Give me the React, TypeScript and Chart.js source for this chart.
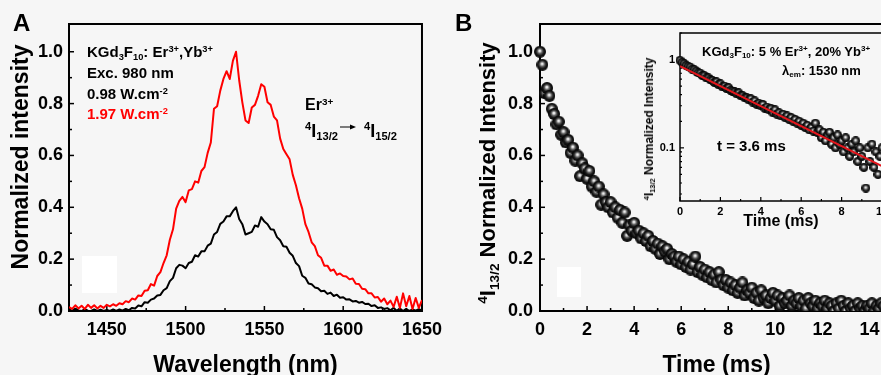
import React, { useEffect, useRef } from 'react';
import { Chart, registerables } from 'chart.js';

Chart.register(...registerables);

const FONT = "'Liberation Sans', Arial, Helvetica, sans-serif";
const BG = '#f6f6f6';

// ---------- Panel A : emission spectra ----------
const wavelengths = [
  1426, 1428, 1430, 1432, 1434, 1436, 1438, 1440, 1442, 1444,
  1446, 1448, 1450, 1452, 1454, 1456, 1458, 1460, 1462, 1464,
  1466, 1468, 1470, 1472, 1474, 1476, 1478, 1480, 1482, 1484,
  1486, 1488, 1490, 1492, 1494, 1496, 1498, 1500, 1502, 1504,
  1506, 1508, 1510, 1512, 1514, 1516, 1518, 1520, 1522, 1524,
  1526, 1528, 1530, 1532, 1534, 1536, 1538, 1540, 1542, 1544,
  1546, 1548, 1550, 1552, 1554, 1556, 1558, 1560, 1562, 1564,
  1566, 1568, 1570, 1572, 1574, 1576, 1578, 1580, 1582, 1584,
  1586, 1588, 1590, 1592, 1594, 1596, 1598, 1600, 1602, 1604,
  1606, 1608, 1610, 1612, 1614, 1616, 1618, 1620, 1622, 1624,
  1626, 1628, 1630, 1632, 1634, 1636, 1638, 1640, 1642, 1644,
  1646, 1648, 1650,
];
// 1.97 W.cm-2 (red)
const intensityHigh = [
  0.015, 0.008, 0.022, 0.010, 0.020, 0.008, 0.024, 0.012, 0.022, 0.010,
  0.020, 0.012, 0.024, 0.018, 0.026, 0.020, 0.030, 0.026, 0.038, 0.034,
  0.048, 0.044, 0.060, 0.058, 0.078, 0.080, 0.104, 0.098, 0.135, 0.150,
  0.185, 0.215, 0.275, 0.315, 0.395, 0.425, 0.440, 0.420, 0.465, 0.470,
  0.500, 0.495, 0.540, 0.555, 0.610, 0.650, 0.780, 0.790, 0.850, 0.895,
  0.925, 0.895, 0.965, 1.000, 0.890, 0.805, 0.735, 0.725, 0.785, 0.795,
  0.830, 0.875, 0.865, 0.805, 0.795, 0.750, 0.735, 0.665, 0.625, 0.605,
  0.585, 0.525, 0.485, 0.435, 0.395, 0.335, 0.305, 0.265, 0.250, 0.215,
  0.205, 0.175, 0.175, 0.155, 0.160, 0.140, 0.145, 0.135, 0.133, 0.122,
  0.125, 0.105, 0.104, 0.086, 0.084, 0.068, 0.068, 0.052, 0.054, 0.036,
  0.048, 0.026, 0.040, 0.016, 0.055, 0.012, 0.068, 0.018, 0.058, 0.008,
  0.050, 0.012, 0.042,
];
// 0.98 W.cm-2 (black)
const intensityLow = [
  0.006, 0.000, 0.009, 0.002, 0.000, 0.007, 0.001, 0.000, 0.006, 0.000,
  0.005, 0.000, 0.004, 0.000, 0.006, 0.000, 0.006, 0.001, 0.008, 0.003,
  0.012, 0.010, 0.021, 0.018, 0.034, 0.032, 0.044, 0.048, 0.060, 0.062,
  0.080, 0.088, 0.115, 0.128, 0.165, 0.178, 0.175, 0.165, 0.185, 0.190,
  0.215, 0.210, 0.230, 0.230, 0.252, 0.260, 0.295, 0.305, 0.336, 0.345,
  0.365, 0.365, 0.385, 0.400, 0.355, 0.335, 0.295, 0.300, 0.305, 0.330,
  0.325, 0.362, 0.345, 0.335, 0.315, 0.313, 0.285, 0.273, 0.250, 0.248,
  0.225, 0.213, 0.185, 0.173, 0.136, 0.128, 0.106, 0.103, 0.091, 0.088,
  0.076, 0.078, 0.066, 0.071, 0.058, 0.063, 0.051, 0.053, 0.044, 0.045,
  0.037, 0.039, 0.032, 0.035, 0.027, 0.028, 0.019, 0.022, 0.012, 0.014,
  0.008, 0.011, 0.003, 0.012, 0.001, 0.010, 0.000, 0.008, 0.000, 0.006,
  0.001, 0.007, 0.002,
];
const aXTicks = [1450, 1500, 1550, 1600, 1650];
const aXMinor = [1475, 1525, 1575, 1625];
const aYTicks = [0, 0.2, 0.4, 0.6, 0.8, 1.0];
const aYMinor = [0.1, 0.3, 0.5, 0.7, 0.9];

// ---------- Panel B : decay ----------
const decayTimes = [
  0, 0.1, 0.2, 0.3, 0.4, 0.5, 0.6, 0.7, 0.8, 0.9,
  1.0, 1.1, 1.2, 1.3, 1.4, 1.5, 1.6, 1.7, 1.8, 1.9,
  2.0, 2.1, 2.2, 2.3, 2.4, 2.5, 2.6, 2.7, 2.8, 2.9,
  3.0, 3.1, 3.2, 3.3, 3.4, 3.5, 3.6, 3.7, 3.8, 3.9,
  4.0, 4.1, 4.2, 4.3, 4.4, 4.5, 4.6, 4.7, 4.8, 4.9,
  5.0, 5.1, 5.2, 5.3, 5.4, 5.5, 5.6, 5.7, 5.8, 5.9,
  6.0, 6.1, 6.2, 6.3, 6.4, 6.5, 6.6, 6.7, 6.8, 6.9,
  7.0, 7.1, 7.2, 7.3, 7.4, 7.5, 7.6, 7.7, 7.8, 7.9,
  8.0, 8.1, 8.2, 8.3, 8.4, 8.5, 8.6, 8.7, 8.8, 8.9,
  9.0, 9.1, 9.2, 9.3, 9.4, 9.5, 9.6, 9.7, 9.8, 9.9,
  10.0, 10.1, 10.2, 10.3, 10.4, 10.5, 10.6, 10.7, 10.8, 10.9,
  11.0, 11.1, 11.2, 11.3, 11.4, 11.5, 11.6, 11.7, 11.8, 11.9,
  12.0, 12.1, 12.2, 12.3, 12.4, 12.5, 12.6, 12.7, 12.8, 12.9,
  13.0, 13.1, 13.2, 13.3, 13.4, 13.5, 13.6, 13.7, 13.8, 13.9,
  14.0, 14.1, 14.2, 14.3, 14.4, 14.5, 14.6,
];
const decayValues = [
  1.00, 0.95, 0.84, 0.86, 0.83, 0.78, 0.76, 0.72, 0.73, 0.68,
  0.69, 0.65, 0.66, 0.61, 0.63, 0.58, 0.60, 0.52, 0.57, 0.55,
  0.51, 0.54, 0.48, 0.50, 0.46, 0.48, 0.41, 0.45, 0.42, 0.40,
  0.42, 0.38, 0.40, 0.36, 0.39, 0.34, 0.38, 0.29, 0.33, 0.31,
  0.34, 0.30, 0.31, 0.28, 0.30, 0.27, 0.29, 0.25, 0.27, 0.24,
  0.26, 0.22, 0.25, 0.23, 0.24, 0.20, 0.22, 0.21, 0.19, 0.21,
  0.18, 0.20, 0.17, 0.19, 0.16, 0.18, 0.21, 0.15, 0.17, 0.14,
  0.16, 0.13, 0.15, 0.12, 0.14, 0.11, 0.15, 0.12, 0.10, 0.12,
  0.09, 0.11, 0.08, 0.10, 0.07, 0.09, 0.11, 0.06, 0.08, 0.07,
  0.09, 0.05, 0.07, 0.04, 0.08, 0.05, 0.06, 0.03, 0.05, 0.07,
  0.04, 0.06, 0.02, 0.05, 0.03, 0.04, 0.06, 0.02, 0.04, 0.03,
  0.05, 0.02, 0.04, 0.01, 0.05, 0.03, 0.02, 0.04, 0.01, 0.03,
  0.02, 0.04, 0.01, 0.03, 0.02, 0.00, 0.03, 0.01, 0.04, 0.02,
  0.00, 0.03, 0.01, 0.02, 0.00, 0.03, 0.01, 0.02, 0.00, 0.02,
  0.01, 0.03, 0.00, 0.02, 0.01, 0.03, 0.02,
];
const bXTicks = [0, 2, 4, 6, 8, 10, 12, 14];
const bXMinor = [1, 3, 5, 7, 9, 11, 13];
const bYTicks = [0, 0.2, 0.4, 0.6, 0.8, 1.0];
const bYMinor = [0.1, 0.3, 0.5, 0.7, 0.9];

// ---------- Inset : log decay ----------
const insetTimes = [
  0, 0.1, 0.2, 0.3, 0.4, 0.5, 0.6, 0.7, 0.8, 0.9,
  1.0, 1.1, 1.2, 1.3, 1.4, 1.5, 1.6, 1.7, 1.8, 1.9,
  2.0, 2.1, 2.2, 2.3, 2.4, 2.5, 2.6, 2.7, 2.8, 2.9,
  3.0, 3.1, 3.2, 3.3, 3.4, 3.5, 3.6, 3.7, 3.8, 3.9,
  4.0, 4.1, 4.2, 4.3, 4.4, 4.5, 4.6, 4.7, 4.8, 4.9,
  5.0, 5.1, 5.2, 5.3, 5.4, 5.5, 5.6, 5.7, 5.8, 5.9,
  6.0, 6.1, 6.2, 6.3, 6.4, 6.5, 6.6, 6.7, 6.8, 6.9,
  7.0, 7.1, 7.2, 7.3, 7.4, 7.5, 7.6, 7.7, 7.8, 7.9,
  8.0, 8.1, 8.2, 8.3, 8.4, 8.5, 8.6, 8.7, 8.8, 8.9,
  9.0, 9.1, 9.2, 9.3, 9.4, 9.5, 9.6, 9.7, 9.8, 9.9,
  10.0, 10.1, 10.2, 10.3,
];
const insetValues = [
  0.98, 0.93, 0.90, 0.86, 0.84, 0.82, 0.78, 0.77, 0.74, 0.71,
  0.70, 0.66, 0.66, 0.62, 0.62, 0.59, 0.58, 0.55, 0.56, 0.52,
  0.53, 0.49, 0.50, 0.47, 0.48, 0.45, 0.44, 0.43, 0.41, 0.42,
  0.39, 0.39, 0.37, 0.37, 0.35, 0.36, 0.33, 0.34, 0.31, 0.32,
  0.30, 0.31, 0.28, 0.29, 0.27, 0.28, 0.25, 0.27, 0.24, 0.25,
  0.23, 0.24, 0.22, 0.23, 0.21, 0.22, 0.20, 0.21, 0.19, 0.20,
  0.18, 0.19, 0.17, 0.18, 0.16, 0.17, 0.155, 0.19, 0.15, 0.16,
  0.13, 0.15, 0.12, 0.14, 0.15, 0.11, 0.13, 0.10, 0.14, 0.11,
  0.12, 0.09, 0.13, 0.10, 0.08, 0.11, 0.09, 0.12, 0.07, 0.10,
  0.08, 0.06, 0.035, 0.10, 0.07, 0.11, 0.06, 0.09, 0.05, 0.08,
  0.10, 0.06, 0.09, 0.05,
];
const fitTimes = [0, 10];
const fitValues = [0.84, 0.062];
const insetXTicks = [0, 2, 4, 6, 8, 10];
const insetXMinor = [1, 3, 5, 7, 9];
const insetYTicks = [0.1, 1];
const insetYLabels = ['0.1', '1'];
const insetYMinor = [0.03, 0.04, 0.05, 0.06, 0.07, 0.08, 0.09, 0.2, 0.3, 0.4, 0.5, 0.6, 0.7, 0.8, 0.9, 2];

// ---------- helpers ----------
function makeBall(d: number): HTMLCanvasElement {
  const c = document.createElement('canvas');
  c.width = d;
  c.height = d;
  const g = c.getContext('2d')!;
  const r = d / 2;
  const grad = g.createRadialGradient(r * 0.95, r * 0.82, 0, r, r, r);
  grad.addColorStop(0, '#ffffff');
  grad.addColorStop(0.16, '#e0e0e0');
  grad.addColorStop(0.38, '#6a6a6a');
  grad.addColorStop(0.65, '#1c1c1c');
  grad.addColorStop(1, '#000000');
  g.fillStyle = grad;
  g.beginPath();
  g.arc(r, r, r, 0, Math.PI * 2);
  g.fill();
  return c;
}

function makeFrame(cfg: any) {
  return {
    id: 'frame',
    beforeDraw(chart: any) {
      if (!cfg.fill) return;
      const { ctx, chartArea: a } = chart;
      ctx.save();
      ctx.fillStyle = cfg.fill;
      ctx.fillRect(a.left, a.top, a.right - a.left, a.bottom - a.top);
      ctx.restore();
    },
    beforeDatasetsDraw(chart: any) {
      const { ctx, chartArea: a, scales } = chart;
      const xs = scales.x;
      const ys = scales.y;
      ctx.save();
      ctx.strokeStyle = '#000';
      ctx.lineWidth = cfg.tickWidth;
      const vt = (v: number, len: number) => {
        const p = xs.getPixelForValue(v);
        ctx.beginPath();
        ctx.moveTo(p, a.bottom);
        ctx.lineTo(p, a.bottom - len);
        ctx.stroke();
      };
      const ht = (v: number, len: number) => {
        const p = ys.getPixelForValue(v);
        ctx.beginPath();
        ctx.moveTo(a.left, p);
        ctx.lineTo(a.left + len, p);
        ctx.stroke();
      };
      cfg.xMajor.forEach((v: number) => vt(v, cfg.majorLen));
      cfg.xMinor.forEach((v: number) => vt(v, cfg.minorLen));
      cfg.yMajor.forEach((v: number) => ht(v, cfg.majorLen));
      cfg.yMinor.forEach((v: number) => ht(v, cfg.minorLen));
      ctx.lineWidth = cfg.border;
      ctx.strokeRect(a.left, a.top, a.right - a.left, a.bottom - a.top);
      ctx.restore();
    },
  };
}

const tickFont = (size: number) => ({ family: FONT, size, weight: 'bold' as const });

function pairs(xs: number[], ys: number[]) {
  return xs.map((x, i) => ({ x, y: ys[i] }));
}

// ---------- text helpers ----------
const Sup = ({ children }: any) => (
  <span style={{ fontSize: '0.62em', position: 'relative', top: '-0.6em' }}>{children}</span>
);
const Sub = ({ children }: any) => (
  <span style={{ fontSize: '0.62em', position: 'relative', top: '0.3em' }}>{children}</span>
);
const T = ({ x, y, size, color = '#000', children }: any) => (
  <div
    style={{
      position: 'absolute',
      left: x,
      top: y - 0.8465 * size,
      fontSize: size,
      lineHeight: `${size}px`,
      whiteSpace: 'nowrap',
      color,
    }}
  >
    {children}
  </div>
);
const VT = ({ cx, cy, size, children }: any) => (
  <div
    style={{
      position: 'absolute',
      left: cx,
      top: cy,
      fontSize: size,
      lineHeight: `${size}px`,
      whiteSpace: 'nowrap',
      transform: 'translate(-50%, -50%) rotate(-90deg)',
    }}
  >
    {children}
  </div>
);
const Arrow = () => (
  <svg width={16} height={8} style={{ position: 'relative', top: -6, marginLeft: 2, marginRight: 8 }}>
    <line x1={0} y1={4} x2={11} y2={4} stroke="#000" strokeWidth={1} />
    <polygon points="10,1.5 16,4 10,6.5" fill="#000" />
  </svg>
);

export default function App() {
  const aRef = useRef<HTMLCanvasElement>(null);
  const bRef = useRef<HTMLCanvasElement>(null);
  const iRef = useRef<HTMLCanvasElement>(null);

  useEffect(() => {
    const ballBig = makeBall(12);
    const ballSmall = makeBall(9);

    const chartA = new Chart(aRef.current!, {
      type: 'line',
      data: {
        datasets: [
          {
            data: pairs(wavelengths, intensityHigh),
            borderColor: '#ff0000',
            borderWidth: 2,
            pointRadius: 0,
            borderJoinStyle: 'round',
          },
          {
            data: pairs(wavelengths, intensityLow),
            borderColor: '#000000',
            borderWidth: 2,
            pointRadius: 0,
            borderJoinStyle: 'round',
          },
        ],
      },
      options: {
        responsive: false,
        animation: false,
        layout: { padding: { left: 0, top: 24, right: 26, bottom: 0 } },
        plugins: { legend: { display: false }, tooltip: { enabled: false } },
        scales: {
          x: {
            type: 'linear',
            min: 1426,
            max: 1650,
            grid: { display: false, drawTicks: false },
            border: { display: false },
            afterBuildTicks: (s: any) => {
              s.ticks = aXTicks.map((v) => ({ value: v }));
            },
            afterFit: (s: any) => {
              s.height = 69;
            },
            ticks: {
              font: tickFont(18),
              color: '#000',
              padding: 8,
              autoSkip: false,
              maxRotation: 0,
              callback: (v: any) => String(v),
            },
            title: {
              display: true,
              text: 'Wavelength (nm)',
              font: tickFont(23),
              color: '#000',
              padding: { top: 0, bottom: 1 },
            },
          },
          y: {
            type: 'linear',
            min: 0,
            max: 1.107,
            grid: { display: false, drawTicks: false },
            border: { display: false },
            afterBuildTicks: (s: any) => {
              s.ticks = aYTicks.map((v) => ({ value: v }));
            },
            afterFit: (s: any) => {
              s.width = 69;
            },
            ticks: {
              font: tickFont(18),
              color: '#000',
              padding: 6,
              autoSkip: false,
              callback: (v: any) => Number(v).toFixed(1),
            },
          },
        },
      } as any,
      plugins: [
        makeFrame({
          border: 2,
          tickWidth: 1.5,
          majorLen: 5,
          minorLen: 3,
          xMajor: aXTicks,
          xMinor: aXMinor,
          yMajor: aYTicks,
          yMinor: aYMinor,
        }),
      ],
    });

    const chartB = new Chart(bRef.current!, {
      type: 'scatter',
      data: {
        datasets: [
          {
            data: pairs(decayTimes, decayValues),
            pointStyle: ballBig as any,
            pointRadius: 6,
            clip: { left: 8, top: 8, right: 8, bottom: 0 } as any,
          },
        ],
      },
      options: {
        responsive: false,
        animation: false,
        layout: { padding: { left: 0, top: 24, right: 5, bottom: 0 } },
        plugins: { legend: { display: false }, tooltip: { enabled: false } },
        scales: {
          x: {
            type: 'linear',
            min: 0,
            max: 15,
            grid: { display: false, drawTicks: false },
            border: { display: false },
            afterBuildTicks: (s: any) => {
              s.ticks = bXTicks.map((v) => ({ value: v }));
            },
            afterFit: (s: any) => {
              s.height = 69;
            },
            ticks: {
              font: tickFont(18),
              color: '#000',
              padding: 8,
              autoSkip: false,
              maxRotation: 0,
              callback: (v: any) => String(v),
            },
            title: {
              display: true,
              text: 'Time (ms)',
              font: tickFont(23),
              color: '#000',
              padding: { top: 0, bottom: 1 },
            },
          },
          y: {
            type: 'linear',
            min: 0,
            max: 1.107,
            grid: { display: false, drawTicks: false },
            border: { display: false },
            afterBuildTicks: (s: any) => {
              s.ticks = bYTicks.map((v) => ({ value: v }));
            },
            afterFit: (s: any) => {
              s.width = 100;
            },
            ticks: {
              font: tickFont(18),
              color: '#000',
              padding: 7,
              autoSkip: false,
              callback: (v: any) => Number(v).toFixed(1),
            },
          },
        },
      } as any,
      plugins: [
        makeFrame({
          border: 2,
          tickWidth: 1.5,
          majorLen: 5,
          minorLen: 3,
          xMajor: bXTicks,
          xMinor: bXMinor,
          yMajor: bYTicks,
          yMinor: bYMinor,
        }),
      ],
    });

    const chartI = new Chart(iRef.current!, {
      type: 'scatter',
      data: {
        datasets: [
          {
            data: pairs(fitTimes, fitValues),
            showLine: true,
            borderColor: '#e4161c',
            borderWidth: 2,
            pointRadius: 0,
          },
          {
            data: pairs(insetTimes, insetValues),
            pointStyle: ballSmall as any,
            pointRadius: 4.5,
            clip: { left: 5, top: 5, right: 0, bottom: 0 } as any,
          },
        ],
      },
      options: {
        responsive: false,
        animation: false,
        layout: { padding: { left: 0, top: 33, right: 28, bottom: 0 } },
        plugins: { legend: { display: false }, tooltip: { enabled: false } },
        scales: {
          x: {
            type: 'linear',
            min: 0,
            max: 10,
            grid: { display: false, drawTicks: false },
            border: { display: false },
            afterBuildTicks: (s: any) => {
              s.ticks = insetXTicks.map((v) => ({ value: v }));
            },
            afterFit: (s: any) => {
              s.height = 39;
            },
            ticks: {
              font: tickFont(11),
              color: '#000',
              padding: 4,
              autoSkip: false,
              maxRotation: 0,
              callback: (v: any) => String(v),
            },
            title: {
              display: true,
              text: 'Time (ms)',
              font: tickFont(16),
              color: '#000',
              padding: { top: 0, bottom: 9 },
            },
          },
          y: {
            type: 'logarithmic',
            min: 0.025,
            max: 2,
            grid: { display: false, drawTicks: false },
            border: { display: false },
            afterBuildTicks: (s: any) => {
              s.ticks = insetYTicks.map((v) => ({ value: v }));
            },
            afterFit: (s: any) => {
              s.width = 50;
            },
            ticks: {
              font: tickFont(11),
              color: '#000',
              padding: 5,
              autoSkip: false,
              callback: (_v: any, i: number) => insetYLabels[i],
            },
          },
        },
      } as any,
      plugins: [
        makeFrame({
          fill: BG,
          border: 1.5,
          tickWidth: 1.2,
          majorLen: 4,
          minorLen: 2,
          xMajor: insetXTicks,
          xMinor: insetXMinor,
          yMajor: insetYTicks,
          yMinor: insetYMinor,
        }),
      ],
    });

    return () => {
      chartA.destroy();
      chartB.destroy();
      chartI.destroy();
    };
  }, []);

  return (
    <div
      style={{
        position: 'fixed',
        left: 0,
        top: 0,
        width: 881,
        height: 375,
        overflow: 'hidden',
        background: BG,
        fontFamily: FONT,
        fontWeight: 'bold',
        color: '#000',
      }}
    >
      <canvas ref={aRef} width={450} height={380} style={{ position: 'absolute', left: 0, top: 0 }} />
      <canvas ref={bRef} width={460} height={380} style={{ position: 'absolute', left: 440, top: 0 }} />
      <canvas ref={iRef} width={280} height={240} style={{ position: 'absolute', left: 630, top: 0 }} />

      <div style={{ position: 'absolute', left: 82, top: 256, width: 35, height: 37, background: '#fff' }} />
      <div style={{ position: 'absolute', left: 557, top: 267, width: 24, height: 30, background: '#fff' }} />

      <T x={13} y={31.7} size={24}>A</T>
      <T x={455} y={31.7} size={24}>B</T>

      <VT cx={20} cy={157} size={23}>Normalized intensity</VT>
      <VT cx={489} cy={172.5} size={22}>
        <Sup>4</Sup>I<Sub>13/2</Sub> Normalized Intensity
      </VT>
      <VT cx={650} cy={128.5} size={12}>
        <Sup>4</Sup>I<Sub>13/2</Sub> Normalized Intensity
      </VT>

      <T x={87} y={57} size={15}>
        KGd<Sub>3</Sub>F<Sub>10</Sub>: Er<Sup>3+</Sup>,Yb<Sup>3+</Sup>
      </T>
      <T x={87} y={78} size={15}>Exc. 980 nm</T>
      <T x={87} y={99} size={15}>
        0.98 W.cm<Sup>-2</Sup>
      </T>
      <T x={87} y={119} size={15} color="#ff0000">
        1.97 W.cm<Sup>-2</Sup>
      </T>

      <T x={305} y={111} size={16}>
        Er<Sup>3+</Sup>
      </T>
      <T x={305} y={137} size={18}>
        <Sup>4</Sup>I<Sub>13/2</Sub>
        <Arrow />
        <Sup>4</Sup>I<Sub>15/2</Sub>
      </T>

      <T x={702} y={56} size={13}>
        KGd<Sub>3</Sub>F<Sub>10</Sub>: 5 % Er<Sup>3+</Sup>, 20% Yb<Sup>3+</Sup>
      </T>
      <T x={782} y={75} size={13}>
        λ<Sub>em</Sub>: 1530 nm
      </T>
      <T x={717} y={150.7} size={15}>t = 3.6 ms</T>
    </div>
  );
}
